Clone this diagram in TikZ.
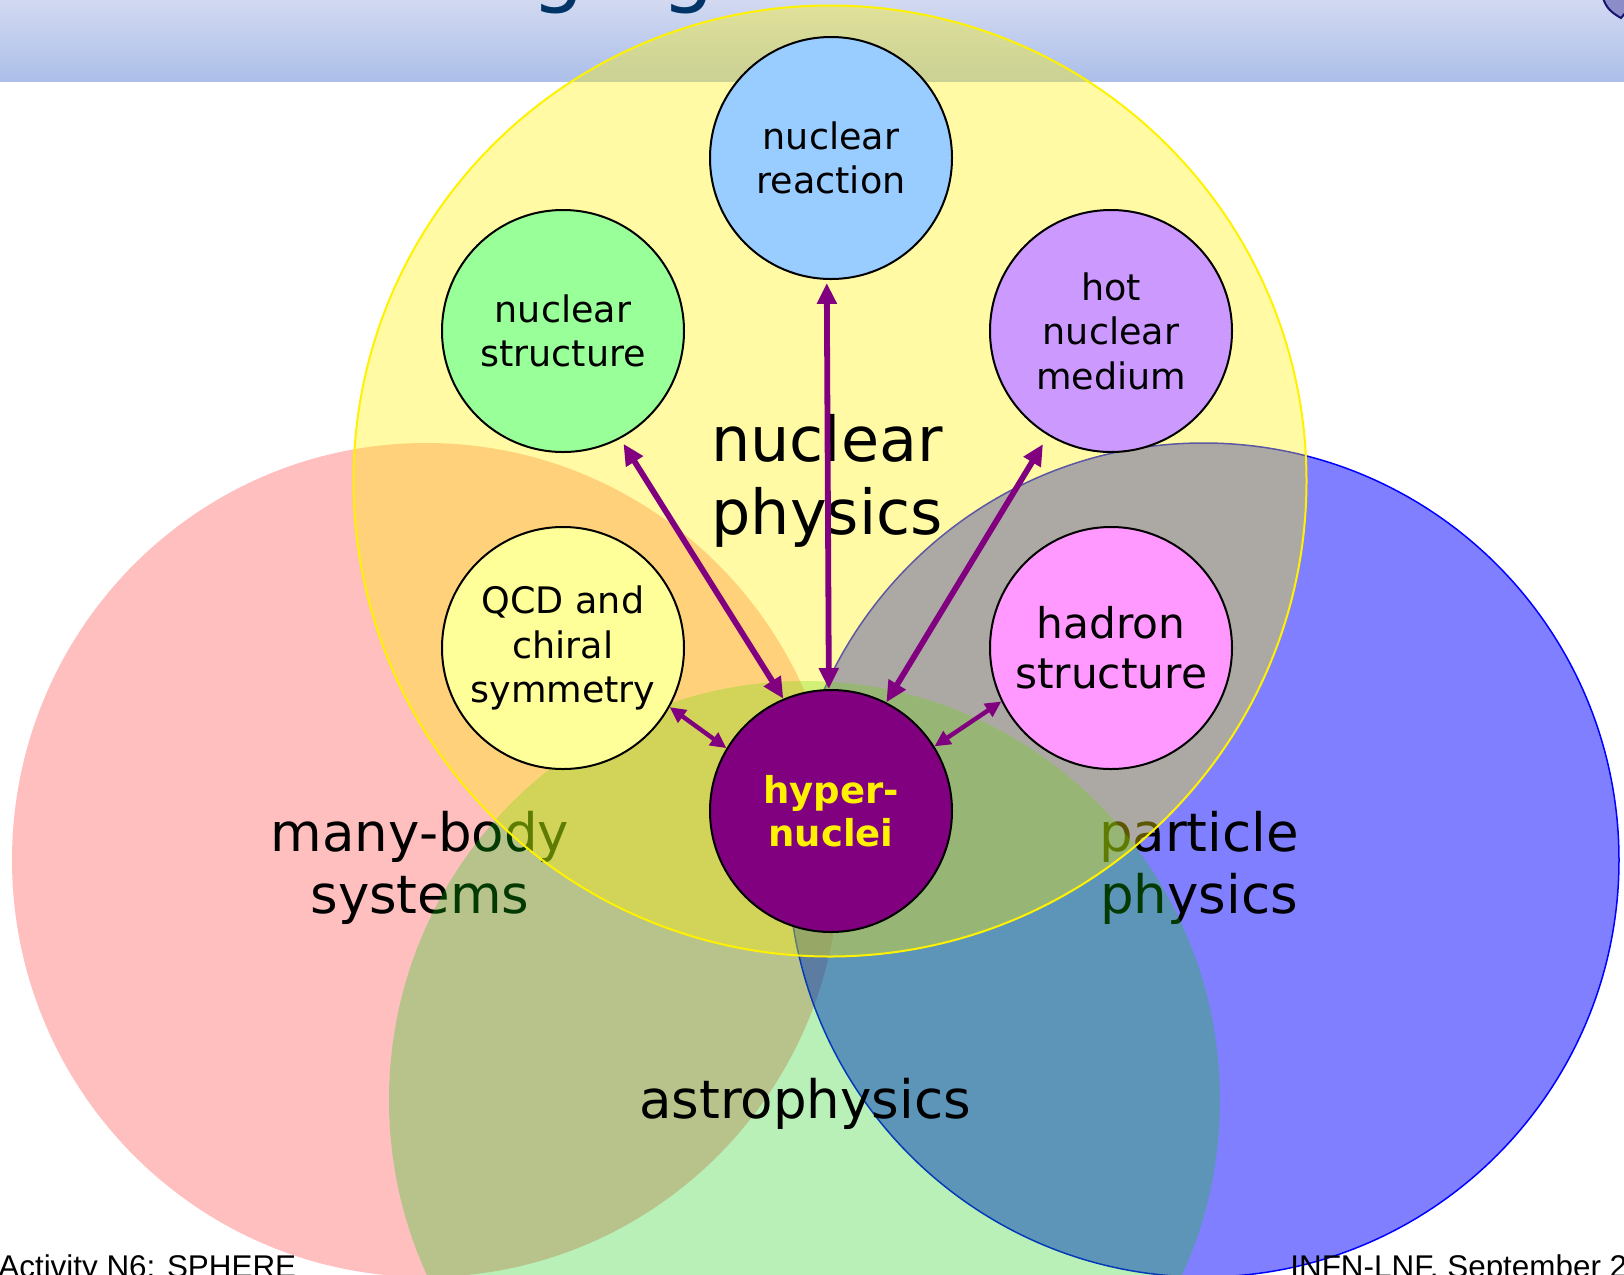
\documentclass[tikz,border=0pt]{standalone}
\usepackage{fontspec}
\setmainfont{DejaVu Sans}
\newfontfamily\footfont{Liberation Sans}
\usetikzlibrary{arrows.meta}

\definecolor{plum}{RGB}{128,0,128}
\definecolor{titleblue}{RGB}{0,51,102}
\definecolor{bartop}{RGB}{210,217,241}
\definecolor{barbottom}{RGB}{172,191,233}
\definecolor{cReaction}{RGB}{153,204,255}
\definecolor{cStructure}{RGB}{153,255,153}
\definecolor{cMedium}{RGB}{204,153,255}
\definecolor{cQCD}{RGB}{255,255,153}
\definecolor{cHadron}{RGB}{255,153,255}
\definecolor{astroGreen}{RGB}{10,203,10}
\definecolor{logoFill}{RGB}{140,140,200}
\definecolor{logoEdge}{RGB}{20,20,110}

\tikzset{
  topic/.style={circle, draw=black, line width=1pt, minimum size=121pt,
    inner sep=0pt, align=center, font=\fontsize{18.25pt}{22.25pt}\selectfont},
  link/.style={draw=plum, line width=2.9pt,
    {Triangle[length=10.5pt,width=9.5pt]}-{Triangle[length=10.5pt,width=9.5pt]}},
  shortlink/.style={draw=plum, line width=2.2pt,
    {Triangle[length=8pt,width=7.5pt]}-{Triangle[length=8pt,width=7.5pt]}},
  field/.style={align=center, inner sep=0pt, font=\fontsize{26.5pt}{31pt}\selectfont},
  foot/.style={anchor=base west, inner sep=0pt, font=\footfont\fontsize{15.7pt}{18pt}\selectfont},
}

\begin{document}
\begin{tikzpicture}[x=0.5pt, y=-0.5pt]
\useasboundingbox (0,0) rectangle (1624,1275);
\clip (0,0) rectangle (1624,1275);

% title bar
\shade[top color=bartop, bottom color=barbottom] (0,0) rectangle (1624,81);
\node[anchor=base west, inner sep=0pt, text=titleblue,
      font=\fontsize{42pt}{50pt}\selectfont] (title) at (531,-4) {ging};
% corner of the logo
\fill[logoFill] (1603,-2) .. controls (1606,8) and (1612,13) .. (1621,18) -- (1626,12) -- (1626,-2) -- cycle;
\draw[logoEdge, line width=1pt] (1603,-2) .. controls (1606,8) and (1612,13) .. (1621,18) -- (1626,12);

% many-body systems
\fill[red, fill opacity=0.25] (426,860) ellipse [x radius=207pt, y radius=208.5pt];
% particle physics
\fill[blue, fill opacity=0.5] (1203.5,860) ellipse [x radius=207.75pt, y radius=208.5pt];
\draw[blue, line width=0.75pt] (1203.5,860) ellipse [x radius=207.75pt, y radius=208.5pt];

\node[field] (manybody) at (420,868) {many-body\\systems};
\node[field] (particle) at (1199,868) {particle\\physics};

% astrophysics
\fill[astroGreen, fill opacity=0.29] (804.5,1100) ellipse [x radius=207.75pt, y radius=209.5pt];
\node[anchor=base, inner sep=0pt, font=\fontsize{26.5pt}{31pt}\selectfont] (astro) at (805,1118.6) {astrophysics};

% nuclear physics
\fill[yellow, fill opacity=0.36] (830,481) ellipse [x radius=238.25pt, y radius=237.75pt];
\draw[yellow, line width=1pt] (830,481) ellipse [x radius=238.25pt, y radius=237.75pt];
\node[align=center, inner sep=0pt, font=\fontsize{31pt}{36.25pt}\selectfont] (nuclphys) at (827,481) {nuclear\\physics};

% topics
\node[topic, fill=cReaction] (nr) at (831,158) {nuclear\\reaction};
\node[topic, fill=cStructure] (ns) at (563,331) {nuclear\\structure};
\node[topic, fill=cMedium] (hm) at (1111,331) {hot\\nuclear\\medium};
\node[topic, fill=cQCD] (qcd) at (563,648) {QCD and\\chiral\\symmetry};
\node[topic, fill=cHadron, font=\fontsize{21.15pt}{25pt}\selectfont] (hs) at (1111,648) {hadron\\structure};
\node[topic, fill=plum, text=yellow, font=\bfseries\fontsize{18.5pt}{21.5pt}\selectfont] (hn) at (831,811) {hyper-\\nuclei};

% links
\draw[link, shorten <=3pt] (ns.-62) -- (hn.113);
\draw[link, shorten <=1.5pt] (nr.-92) -- (hn.91);
\draw[link, shorten <=5pt] (hm.-121) -- (hn.63);
\draw[shortlink] (qcd.-29) -- (hn.149);
\draw[shortlink] (hs.206) -- (hn.32);

% footer
\node[foot] (footL) at (-2,1277) {Activity N6: SPHERE};
\node[foot] (footR) at (1290,1277) {INFN-LNF, September 2};
\end{tikzpicture}
\end{document}
